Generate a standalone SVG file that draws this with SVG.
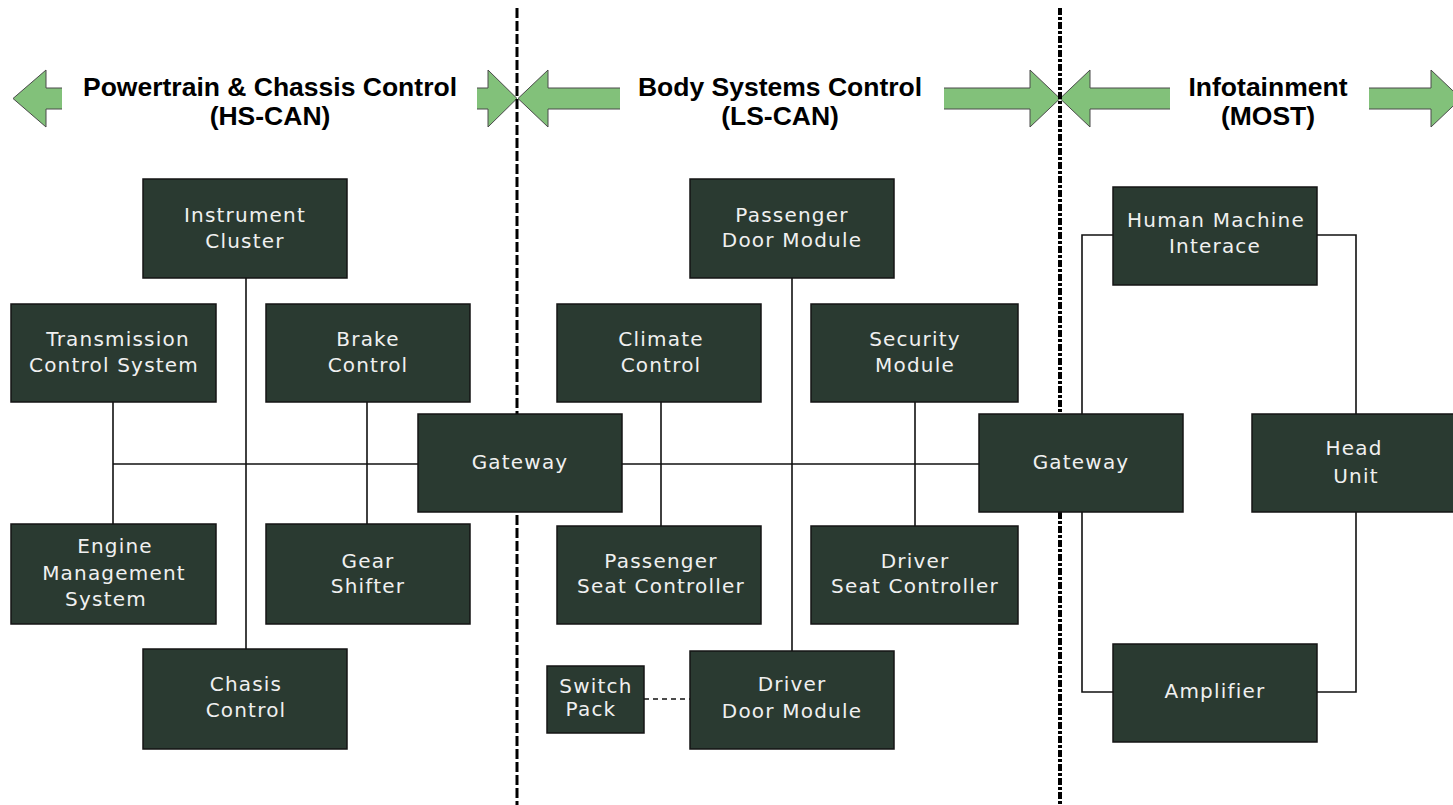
<svg xmlns="http://www.w3.org/2000/svg" width="1453" height="805" viewBox="0 0 1453 805">
<style>
.bg{fill:#ffffff}
.box{fill:#2a3a31;stroke:#151515;stroke-width:1.5}
.lbl{font-family:"DejaVu Sans",Verdana,sans-serif;font-size:20px;fill:#f0f0f0;text-anchor:middle;letter-spacing:1.2px}
.title{font-family:"Liberation Sans",Arial,sans-serif;font-size:26.5px;font-weight:bold;fill:#000;text-anchor:middle}
.arrowfill{fill:#82c17a;stroke:none}
.arrowline{fill:none;stroke:#4a4a4a;stroke-width:1}
.conn{fill:none;stroke:#111;stroke-width:1.6}
.dash{fill:none;stroke:#111;stroke-width:1.6;stroke-dasharray:5 4}
.sep1{fill:none;stroke:#000;stroke-width:3;stroke-dasharray:10 3}
.sep2{fill:none;stroke:#000;stroke-width:4;stroke-dasharray:7 2 3 2}
</style>
<rect class="bg" x="0" y="0" width="1453" height="805"/>

<g id="headers">
  <g id="arrows">
    <polygon class="arrowfill" points="62,88 46,88 46,70 13,98.5 46,127 46,109 62,109"/>
    <polyline class="arrowline" points="62,88 46,88 46,70 13,98.5 46,127 46,109 62,109"/>
    <polygon class="arrowfill" points="477,88 488,88 488,70 517,98.5 488,127 488,109 477,109"/>
    <polyline class="arrowline" points="477,88 488,88 488,70 517,98.5 488,127 488,109 477,109"/>
    <polygon class="arrowfill" points="620,88 548,88 548,70 518,98.5 548,127 548,109 620,109"/>
    <polyline class="arrowline" points="620,88 548,88 548,70 518,98.5 548,127 548,109 620,109"/>
    <polygon class="arrowfill" points="944,88 1030,88 1030,70 1060,98.5 1030,127 1030,109 944,109"/>
    <polyline class="arrowline" points="944,88 1030,88 1030,70 1060,98.5 1030,127 1030,109 944,109"/>
    <polygon class="arrowfill" points="1170,88 1090,88 1090,70 1060,98.5 1090,127 1090,109 1170,109"/>
    <polyline class="arrowline" points="1170,88 1090,88 1090,70 1060,98.5 1090,127 1090,109 1170,109"/>
    <polygon class="arrowfill" points="1369,88 1431,88 1431,70 1461,98.5 1431,127 1431,109 1369,109"/>
    <polyline class="arrowline" points="1369,88 1431,88 1431,70 1461,98.5 1431,127 1431,109 1369,109"/>
  </g>
  <text class="title" x="270" y="96">Powertrain &amp; Chassis Control</text>
  <text class="title" x="270" y="125">(HS-CAN)</text>
  <text class="title" x="780" y="96">Body Systems Control</text>
  <text class="title" x="780" y="125">(LS-CAN)</text>
  <text class="title" x="1268" y="96">Infotainment</text>
  <text class="title" x="1268" y="125">(MOST)</text>
</g>

<g id="separators">
  <line class="sep1" x1="517" y1="8" x2="517" y2="805"/>
  <line class="sep2" x1="1060" y1="8" x2="1060" y2="805"/>
</g>

<g id="connectors">
  <path class="conn" d="M113,464 H418"/>
  <path class="conn" d="M113,402 V524"/>
  <path class="conn" d="M246,278 V649"/>
  <path class="conn" d="M367,402 V524"/>
  <path class="conn" d="M622,464 H979"/>
  <path class="conn" d="M661,402 V526"/>
  <path class="conn" d="M792,278 V651"/>
  <path class="conn" d="M915,402 V526"/>
  <path class="dash" d="M644,699 H690"/>
  <path class="conn" d="M1113,235 H1082 V414"/>
  <path class="conn" d="M1317,235 H1356 V414"/>
  <path class="conn" d="M1082,512 V692 H1113"/>
  <path class="conn" d="M1317,692 H1356 V512"/>
</g>

<g id="instrument-cluster">
  <rect class="box" x="143" y="179" width="204" height="99"/>
  <text class="lbl" x="245" y="222">Instrument</text>
  <text class="lbl" x="245" y="248">Cluster</text>
</g>
<g id="transmission-control">
  <rect class="box" x="11" y="304" width="205" height="98"/>
  <text class="lbl" x="118" y="346" letter-spacing="2">Transmission</text>
  <text class="lbl" x="114" y="372" letter-spacing="1.6">Control System</text>
</g>
<g id="brake-control">
  <rect class="box" x="266" y="304" width="204" height="98"/>
  <text class="lbl" x="368" y="346">Brake</text>
  <text class="lbl" x="368" y="372">Control</text>
</g>
<g id="gateway-1">
  <rect class="box" x="418" y="414" width="204" height="98"/>
  <text class="lbl" x="520" y="469">Gateway</text>
</g>
<g id="engine-management">
  <rect class="box" x="11" y="524" width="205" height="100"/>
  <text class="lbl" x="115" y="553">Engine</text>
  <text class="lbl" x="114" y="580">Management</text>
  <text class="lbl" x="106" y="606" letter-spacing="0">System</text>
</g>
<g id="gear-shifter">
  <rect class="box" x="266" y="524" width="204" height="100"/>
  <text class="lbl" x="368" y="568">Gear</text>
  <text class="lbl" x="368" y="593">Shifter</text>
</g>
<g id="chasis-control">
  <rect class="box" x="143" y="649" width="204" height="100"/>
  <text class="lbl" x="246" y="691">Chasis</text>
  <text class="lbl" x="246" y="717">Control</text>
</g>

<g id="passenger-door-module">
  <rect class="box" x="690" y="179" width="204" height="99"/>
  <text class="lbl" x="792" y="222">Passenger</text>
  <text class="lbl" x="792" y="247">Door Module</text>
</g>
<g id="climate-control">
  <rect class="box" x="557" y="304" width="204" height="98"/>
  <text class="lbl" x="661" y="346">Climate</text>
  <text class="lbl" x="661" y="372">Control</text>
</g>
<g id="security-module">
  <rect class="box" x="811" y="304" width="207" height="98"/>
  <text class="lbl" x="915" y="346">Security</text>
  <text class="lbl" x="915" y="372">Module</text>
</g>
<g id="passenger-seat-controller">
  <rect class="box" x="557" y="526" width="204" height="98"/>
  <text class="lbl" x="661" y="568">Passenger</text>
  <text class="lbl" x="661" y="593">Seat Controller</text>
</g>
<g id="driver-seat-controller">
  <rect class="box" x="811" y="526" width="207" height="98"/>
  <text class="lbl" x="915" y="568">Driver</text>
  <text class="lbl" x="915" y="593">Seat Controller</text>
</g>
<g id="switch-pack">
  <rect class="box" x="547" y="666" width="97" height="67"/>
  <text class="lbl" x="596" y="693" letter-spacing="0.5">Switch</text>
  <text class="lbl" x="591" y="716" letter-spacing="0.5">Pack</text>
</g>
<g id="driver-door-module">
  <rect class="box" x="690" y="651" width="204" height="98"/>
  <text class="lbl" x="792" y="691">Driver</text>
  <text class="lbl" x="792" y="718">Door Module</text>
</g>

<g id="gateway-2">
  <rect class="box" x="979" y="414" width="204" height="98"/>
  <text class="lbl" x="1081" y="469">Gateway</text>
</g>
<g id="human-machine-interface">
  <rect class="box" x="1113" y="187" width="204" height="98"/>
  <text class="lbl" x="1216" y="227">Human Machine</text>
  <text class="lbl" x="1215" y="253">Interace</text>
</g>
<g id="head-unit">
  <rect class="box" x="1252" y="414" width="204" height="98"/>
  <text class="lbl" x="1354" y="455">Head</text>
  <text class="lbl" x="1356" y="483">Unit</text>
</g>
<g id="amplifier">
  <rect class="box" x="1113" y="644" width="204" height="98"/>
  <text class="lbl" x="1215" y="698">Amplifier</text>
</g>
</svg>
